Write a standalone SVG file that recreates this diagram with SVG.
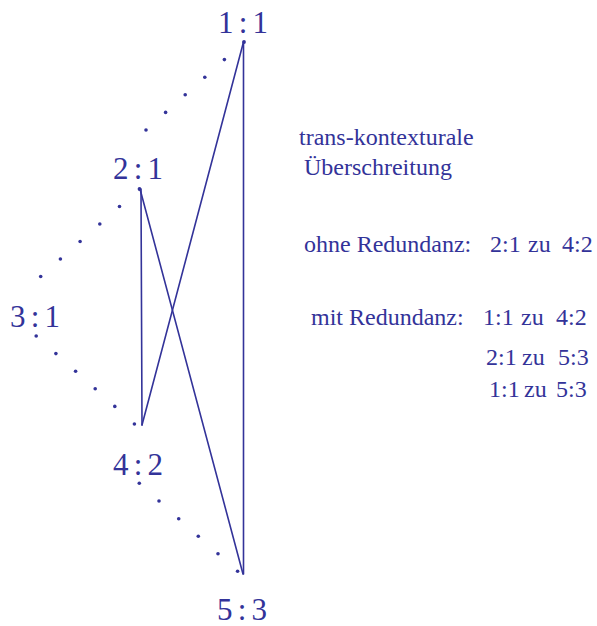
<svg xmlns="http://www.w3.org/2000/svg" width="597" height="626" viewBox="0 0 597 626">
<style>
.lbl{font-family:"Liberation Serif","Times New Roman",serif;font-size:31px;fill:#333399;text-anchor:middle;word-spacing:-2.5px}
.txt{font-family:"Liberation Serif","Times New Roman",serif;font-size:24px;fill:#333399}
.ln{stroke:#333399;stroke-width:1.6;fill:none;stroke-linecap:round}
.dot{fill:#333399}
</style>
<rect width="597" height="626" fill="#ffffff"/>
<g id="node-1-1"><text class="lbl" x="243" y="33">1 : 1</text><circle class="dot" cx="244" cy="42" r="1.9"/></g>
<g id="node-2-1"><text class="lbl" x="138" y="179">2 : 1</text><circle class="dot" cx="139.5" cy="189" r="1.9"/></g>
<g id="node-3-1"><text class="lbl" x="35" y="327">3 : 1</text></g>
<g id="node-4-2"><text class="lbl" x="138" y="475">4 : 2</text></g>
<g id="node-5-3"><text class="lbl" x="242" y="620">5 : 3</text></g>
<g id="connectors">
<line class="ln" x1="243.5" y1="42" x2="243.5" y2="574"/>
<line class="ln" x1="243.5" y1="42" x2="142" y2="425"/>
<line class="ln" x1="141" y1="189" x2="142" y2="425"/>
<line class="ln" x1="140" y1="189" x2="243" y2="574"/>
</g>
<g id="dotted" class="dot">
<circle cx="224.4" cy="59.6" r="1.8"/><circle cx="204.8" cy="77.2" r="1.8"/><circle cx="185.2" cy="94.8" r="1.8"/><circle cx="165.6" cy="112.4" r="1.8"/><circle cx="146" cy="130" r="1.8"/>
<circle cx="119.5" cy="206.5" r="1.8"/><circle cx="99.8" cy="224" r="1.8"/><circle cx="80.1" cy="241.5" r="1.8"/><circle cx="60.4" cy="259" r="1.8"/><circle cx="40.7" cy="276.5" r="1.8"/>
<circle cx="36.2" cy="336" r="1.8"/><circle cx="55.9" cy="353.6" r="1.8"/><circle cx="75.6" cy="371.2" r="1.8"/><circle cx="95.2" cy="388.8" r="1.8"/><circle cx="114.8" cy="406.4" r="1.8"/><circle cx="134.4" cy="424" r="1.8"/>
<circle cx="139.3" cy="483.3" r="1.8"/><circle cx="159" cy="501" r="1.8"/><circle cx="178.7" cy="518.7" r="1.8"/><circle cx="198.3" cy="536.3" r="1.8"/><circle cx="218" cy="553.8" r="1.8"/><circle cx="237.6" cy="571.3" r="1.8"/>
</g>
<g id="notes">
<text class="txt" x="299" y="145">trans-kontexturale</text>
<text class="txt" x="304" y="175">Überschreitung</text>
<text class="txt" y="252"><tspan x="304">ohne Redundanz:</tspan><tspan x="490">2:1</tspan><tspan x="528">zu</tspan><tspan x="562">4:2</tspan></text>
<text class="txt" y="325"><tspan x="311">mit Redundanz:</tspan><tspan x="483">1:1</tspan><tspan x="521">zu</tspan><tspan x="556">4:2</tspan></text>
<text class="txt" y="365"><tspan x="486">2:1</tspan><tspan x="522">zu</tspan><tspan x="558">5:3</tspan></text>
<text class="txt" y="397"><tspan x="489">1:1</tspan><tspan x="524">zu</tspan><tspan x="556">5:3</tspan></text>
</g>
</svg>
